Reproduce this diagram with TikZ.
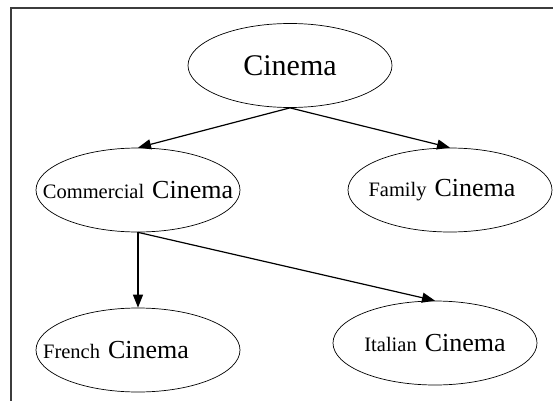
\documentclass[tikz,border=0pt]{standalone}
\usepackage{fontspec}
\setmainfont{Liberation Serif}
\usetikzlibrary{shapes.geometric,arrows.meta}
\definecolor{framegray}{RGB}{60,60,60}
\newcommand{\genrename}[1]{{\fontsize{20.5}{24}\selectfont #1}}
\newcommand{\cinword}{{\fontsize{26}{30}\selectfont Cinema}}
% zero-width label so the ellipse keeps its own size
\newcommand{\cinlabel}[2][0pt]{\makebox[0pt]{\hspace*{#1}\genrename{#2}\hspace{8pt}\cinword}}

\begin{document}
\begin{tikzpicture}[x=1pt,y=-1pt,
    cin/.style={draw,ellipse,line width=0.7pt,minimum width=204pt,minimum height=84pt,inner sep=0pt},
    link/.style={-{Triangle[length=13pt,width=10pt]},line width=1.2pt}]
  \useasboundingbox (0,0) rectangle (553,401);
  % frame: only top and left edges show
  \draw[framegray,line width=2pt] (553,8) -- (11,8) -- (11,401);
  % root
  \node[cin] (cinema) at (290,65.5) {\fontsize{30}{34}\selectfont Cinema};
  % second row
  \node[cin] (commercial) at (138,190) {\cinlabel{Commercial}};
  \node[cin] (family) at (450,190) {\cinlabel[-16pt]{Family}};
  % third row (French text sits left of centre)
  \node[cin] (french) at (138,350) {\cinlabel[-44pt]{French}};
  \node[cin] (italian) at (435,343) {\cinlabel{Italian}};
  % edges
  \foreach \a/\b in {cinema/commercial,cinema/family,commercial/french,commercial/italian}
    \draw[link] (\a.south) -- (\b.north);
\end{tikzpicture}
\end{document}
